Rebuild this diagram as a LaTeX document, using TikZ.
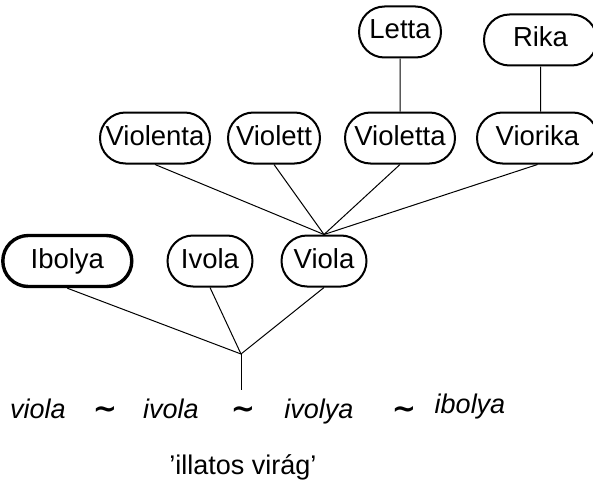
\documentclass[tikz,border=0pt]{standalone}
\usepackage{fontspec}
\setmainfont{Liberation Sans}
\newfontfamily\tildefont{DejaVu Sans}
\usetikzlibrary{positioning, shapes.misc}
\tikzset{
    namebox/.style={
        rounded rectangle, draw=black, line width=2pt,
        minimum height=51pt, inner sep=0pt,
        text height=19.5pt, text depth=5.5pt,
        font=\fontsize{27.5}{32}\selectfont, fill=white
    },
    namebox-main/.style={namebox, line width=3.4pt},
    link/.style={draw=black, line width=1pt},
    form/.style={font=\fontsize{27}{32}\selectfont\itshape, anchor=base},
    alt/.style={font=\fontsize{29}{34}\selectfont\tildefont\bfseries, anchor=base},
    gloss/.style={font=\fontsize{27}{32}\selectfont, anchor=base},
}
\begin{document}
\begin{tikzpicture}[x=1pt, y=-1pt]
\useasboundingbox (0,0) rectangle (593,484);

% ---- Upper row ----
\node[namebox, minimum width=110pt] (violenta) at (155,138) {Violenta};
\node[namebox, minimum width=92pt, right=16pt of violenta] (violett) {Violett};
\node[namebox, minimum width=110pt, right=23pt of violett] (violetta) {Violetta};
\node[namebox, minimum width=121pt, right=20pt of violetta] (viorika) {Viorika};

% ---- Top row ----
\node[namebox, minimum width=82pt, above=53pt of violetta] (letta) {Letta};
\node[namebox, minimum width=113pt, above=45pt of viorika, xshift=3pt] (rika) {Rika};

% ---- Lower row ----
\node[namebox, minimum width=85pt] (viola) at (324,261) {Viola};
\node[namebox, minimum width=85pt, left=27pt of viola] (ivola) {Ivola};
\node[namebox-main, minimum width=129pt, left=33pt of ivola] (ibolya) {Ibolya};

% ---- Links ----
\draw[link] (letta) -- (violetta);
\draw[link] (rika) -- (rika |- viorika.north);
\foreach \n in {violenta, violett, violetta, viorika}
    \draw[link] (\n.south) -- (viola.north);

\coordinate (root) at (241,354);
\coordinate (stem) at (241,390);
\foreach \n in {ibolya, ivola, viola}
    \draw[link] (\n.south) -- (root);
\draw[link] (root) -- (stem);

% ---- Forms ----
\node[form] (f-viola)  at (38,418)  {viola};
\node[alt]  (t-1)      at (105,418) {\char`\~};
\node[form] (f-ivola)  at (171,418) {ivola};
\node[alt]  (t-2)      at (243,418) {\char`\~};
\node[form] (f-ivolya) at (319,418) {ivolya};
\node[alt]  (t-3)      at (404,418) {\char`\~};
\node[form] (f-ibolya) at (470,413) {ibolya};
\node[gloss] (gloss) at (243,474) {’illatos virág’};

\end{tikzpicture}
\end{document}
